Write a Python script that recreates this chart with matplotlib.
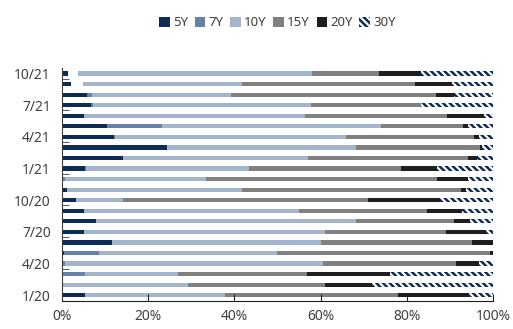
import numpy as np
import matplotlib
matplotlib.use("Agg")
from matplotlib import pyplot as plt
from matplotlib.ticker import FixedLocator, PercentFormatter

plt.rcParams['font.family'] = ['Noto Sans', 'DejaVu Sans']
plt.rcParams['hatch.linewidth'] = 1.8

months = ['1/20', '2/20', '3/20', '4/20', '5/20', '6/20', '7/20', '8/20', '9/20', '10/20', '11/20', '12/20',
          '1/21', '2/21', '3/21', '4/21', '5/21', '6/21', '7/21', '8/21', '9/21', '10/21']

# share of each tenor, %
y5 = [5.4, 0, 0, 0, 0.5, 11.5, 5.2, 8.0, 5.0, 3.3, 1.2, 0,
      5.4, 14.2, 24.4, 12.1, 10.4, 5.2, 6.8, 5.9, 2.2, 1.5]
blank = [0, 0, 0, 0, 0, 0, 0, 0, 0, 0, 0, 0,
         0, 0, 0, 0, 0, 0, 0, 0, 2.7, 2.1]
y7 = [0, 0, 5.4, 0.8, 8.2, 0, 0, 0, 0, 0, 0, 0.8,
      0.2, 0, 0, 0.1, 12.8, 0, 0.5, 1.1, 0, 0]
y10 = [32.5, 29.3, 21.6, 59.8, 41.1, 48.5, 55.9, 60.3, 50.1, 10.9, 40.6, 32.7,
       37.7, 42.8, 43.9, 53.8, 50.7, 51.1, 50.5, 32.2, 36.9, 54.5]
y15 = [40.1, 31.8, 29.9, 30.9, 49.4, 35.2, 27.9, 22.6, 29.7, 56.8, 50.7, 53.4,
       35.3, 37.1, 28.6, 29.7, 19.2, 33.1, 25.6, 47.6, 40.2, 15.4]
y20 = [16.4, 10.8, 19.2, 5.3, 0.8, 4.8, 9.4, 3.7, 8.1, 16.7, 1.2, 7.3,
       8.3, 2.1, 0.6, 1.1, 1.1, 8.5, 0, 4.1, 8.6, 9.7]
y30 = [5.6, 28.1, 23.9, 3.2, 0, 0, 1.6, 5.4, 7.1, 12.3, 6.3, 5.8,
       13.1, 3.8, 2.5, 3.2, 5.8, 2.1, 16.6, 9.1, 9.4, 16.8]

navy = '#0c2c55'
series = [
    ('5Y', y5, dict(color=navy)),
    (None, blank, dict(color='white')),
    ('7Y', y7, dict(color='#6682a8')),
    ('10Y', y10, dict(color='#a3b4cd')),
    ('15Y', y15, dict(color='#808080')),
    ('20Y', y20, dict(color='#1e1e1e')),
    ('30Y', y30, dict(facecolor='white', edgecolor=navy, hatch='\\' * 5, linewidth=0)),
]

fig = plt.figure(figsize=(5.13, 3.29), dpi=100)
ax = fig.add_axes([62 / 513, 0.0866, 431 / 513, 0.706])

pos = np.arange(len(months))
left = np.zeros(len(months))
for name, vals, style in series:
    vals = np.array(vals)
    b = ax.barh(pos, vals, left=left, height=0.4, **style)
    if name:
        b.set_label(name)
    left += vals

ax.set_xlim(0, 100)
ax.set_ylim(-0.5, len(months) - 0.5)
ax.xaxis.set_major_locator(FixedLocator([0, 20, 40, 60, 80, 100]))
ax.xaxis.set_major_formatter(PercentFormatter(decimals=0))
ax.set_yticks(pos[::3])
ax.set_yticklabels(months[::3])
ax.yaxis.set_minor_locator(FixedLocator(np.arange(2.5, len(months), 3)))

for s in ['top', 'right']:
    ax.spines[s].set_visible(False)
ax.spines['left'].set_color('#404040')
ax.spines['bottom'].set_color('#202020')
ax.tick_params(axis='x', direction='in', length=5, color='#202020', labelsize=10,
               labelcolor='#404040', pad=6)
ax.tick_params(axis='y', which='major', length=0, labelsize=10, labelcolor='#404040', pad=8)
ax.tick_params(axis='y', which='minor', direction='in', length=5, color='#404040')

ax.legend(loc='center', bbox_to_anchor=(0.5, 1.195), ncol=6, frameon=False, fontsize=9.5,
          handlelength=0.8, handleheight=0.8, handletextpad=0.25, columnspacing=0.5,
          labelcolor='#404040')

fig.savefig('out.png', dpi=100)
